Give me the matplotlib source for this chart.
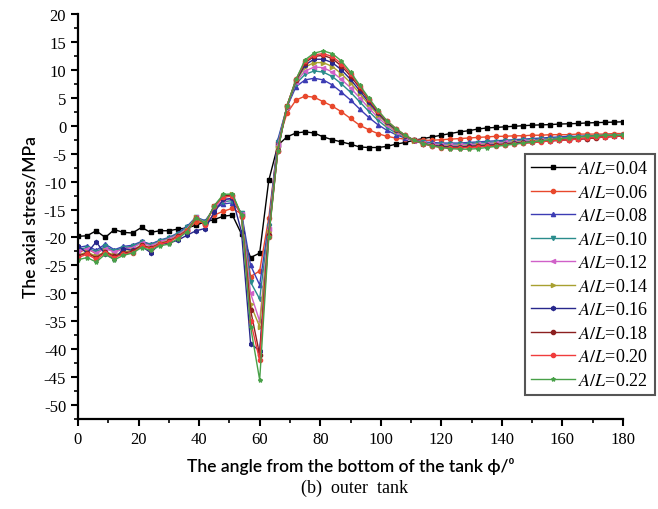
import matplotlib
matplotlib.use("Agg")
import matplotlib.pyplot as plt
from matplotlib.ticker import MultipleLocator

plt.rcParams['mathtext.fontset'] = 'stix'
plt.rcParams['axes.unicode_minus'] = False

angles = list(range(0, 181, 3))

labels = ["0.04", "0.06", "0.08", "0.10", "0.12", "0.14", "0.16", "0.18", "0.20", "0.22"]

s004 = [-19.8, -19.7, -18.8, -20.0, -18.6, -19.1, -19.2, -18.2, -19.1, -18.8,
        -18.8, -18.5, -18.3, -17.8, -17.2, -16.8, -16.2, -16.0, -19.4, -23.6,
        -22.8, -9.8, -3.5, -2.0, -1.3, -1.1, -1.3, -2.0, -2.5, -2.9,
        -3.3, -3.8, -3.9, -3.9, -3.7, -3.3, -3.0, -2.6, -2.3, -2.0,
        -1.7, -1.4, -1.1, -0.9, -0.6, -0.4, -0.3, -0.2, -0.1, 0.0,
        0.1, 0.15, 0.2, 0.3, 0.35, 0.4, 0.5, 0.55, 0.6, 0.65,
        0.7]
s006 = [-22.8, -22.0, -22.9, -21.8, -22.6, -22.0, -21.8, -20.8, -21.3, -20.6,
        -20.2, -19.4, -18.6, -17.2, -17.4, -16.0, -15.3, -14.8, -15.8, -27.0,
        -26.0, -16.5, -3.0, 2.2, 4.6, 5.3, 5.1, 4.3, 3.5, 2.5,
        1.3, 0.1, -0.7, -1.4, -1.9, -2.2, -2.4, -2.5, -2.6, -2.6,
        -2.5, -2.4, -2.3, -2.2, -2.1, -2.0, -1.9, -1.9, -1.8, -1.8,
        -1.7, -1.7, -1.6, -1.6, -1.6, -1.5, -1.5, -1.5, -1.5, -1.4,
        -1.4]
s008 = [-21.8, -21.5, -22.3, -21.2, -22.2, -21.6, -21.4, -20.7, -21.2, -20.5,
        -20.0, -19.2, -18.0, -16.4, -17.0, -14.8, -14.0, -13.8, -15.6, -25.0,
        -28.5, -17.5, -2.5, 3.3, 7.0, 8.2, 8.5, 8.2, 7.3, 6.0,
        4.6, 3.0, 1.5, 0.2, -0.8, -1.6, -2.2, -2.6, -2.9, -3.0,
        -3.1, -3.1, -3.1, -3.0, -2.9, -2.8, -2.7, -2.6, -2.5, -2.4,
        -2.3, -2.2, -2.1, -2.0, -1.9, -1.9, -1.8, -1.8, -1.7, -1.7,
        -1.7]
s010 = [-22.2, -21.8, -22.6, -21.6, -22.4, -21.8, -21.6, -20.8, -21.3, -20.6,
        -20.1, -19.3, -18.2, -16.3, -17.2, -14.7, -13.6, -13.4, -15.6, -28.0,
        -31.0, -18.0, -3.0, 3.4, 7.5, 9.2, 9.8, 9.6, 8.8, 7.5,
        6.0, 4.3, 2.6, 1.0, -0.3, -1.3, -2.1, -2.7, -3.0, -3.2,
        -3.3, -3.3, -3.3, -3.2, -3.1, -3.0, -2.9, -2.8, -2.7, -2.6,
        -2.5, -2.4, -2.3, -2.2, -2.1, -2.0, -1.9, -1.9, -1.8, -1.8,
        -1.7]
s012 = [-22.5, -22.0, -22.8, -22.0, -22.6, -22.1, -21.8, -21.0, -21.5, -20.8,
        -20.3, -19.5, -18.5, -16.4, -17.4, -14.6, -13.3, -13.1, -15.8, -30.0,
        -35.0, -18.5, -3.5, 3.4, 7.8, 9.8, 10.5, 10.4, 9.6, 8.3,
        6.8, 5.0, 3.2, 1.5, 0.1, -1.1, -2.0, -2.7, -3.1, -3.3,
        -3.4, -3.5, -3.5, -3.4, -3.3, -3.2, -3.1, -3.0, -2.9, -2.8,
        -2.7, -2.6, -2.5, -2.4, -2.3, -2.2, -2.1, -2.0, -1.9, -1.8,
        -1.8]
s014 = [-23.2, -22.6, -23.4, -22.5, -23.2, -22.6, -22.3, -21.3, -21.8, -21.0,
        -20.6, -19.7, -18.7, -16.4, -17.5, -14.4, -12.5, -12.3, -16.0, -32.0,
        -36.0, -19.0, -4.0, 3.5, 8.0, 10.5, 11.3, 11.3, 10.6, 9.3,
        7.7, 5.8, 3.8, 2.0, 0.4, -0.9, -1.9, -2.7, -3.2, -3.5,
        -3.6, -3.7, -3.7, -3.6, -3.5, -3.4, -3.3, -3.2, -3.0, -2.9,
        -2.8, -2.7, -2.6, -2.5, -2.4, -2.3, -2.2, -2.1, -2.0, -1.9,
        -1.8]
s016 = [-21.5, -22.8, -20.8, -23.0, -23.9, -22.0, -22.3, -21.6, -22.7, -21.2,
        -21.0, -20.5, -19.6, -18.8, -18.4, -15.5, -13.2, -13.0, -19.0, -39.0,
        -40.3, -19.5, -4.3, 3.5, 8.1, 10.9, 11.9, 11.9, 11.3, 10.0,
        8.3, 6.3, 4.2, 2.3, 0.6, -0.7, -1.8, -2.6, -3.2, -3.5,
        -3.7, -3.8, -3.8, -3.7, -3.6, -3.5, -3.4, -3.3, -3.1, -3.0,
        -2.9, -2.8, -2.7, -2.6, -2.5, -2.4, -2.3, -2.1, -2.0, -1.9,
        -1.8]
s018 = [-23.3, -22.8, -23.6, -22.6, -23.4, -22.8, -22.5, -21.4, -21.9, -21.1,
        -20.7, -19.8, -18.8, -16.5, -17.6, -14.3, -12.6, -12.4, -16.2, -33.0,
        -41.0, -19.5, -4.5, 3.5, 8.2, 11.3, 12.4, 12.6, 12.0, 10.7,
        8.9, 6.8, 4.6, 2.5, 0.8, -0.6, -1.7, -2.6, -3.2, -3.6,
        -3.8, -3.9, -3.9, -3.8, -3.7, -3.6, -3.5, -3.4, -3.2, -3.1,
        -3.0, -2.8, -2.7, -2.6, -2.5, -2.4, -2.3, -2.2, -2.0, -1.9,
        -1.8]
s020 = [-23.6, -23.0, -23.9, -22.8, -23.6, -23.0, -22.7, -21.6, -22.0, -21.2,
        -20.8, -19.9, -18.9, -16.6, -17.7, -14.4, -12.8, -12.6, -16.3, -35.0,
        -42.0, -20.0, -4.5, 3.6, 8.3, 11.5, 12.7, 12.9, 12.4, 11.1,
        9.3, 7.1, 4.8, 2.7, 0.9, -0.5, -1.7, -2.6, -3.2, -3.6,
        -3.9, -4.0, -4.0, -3.9, -3.8, -3.7, -3.6, -3.4, -3.3, -3.1,
        -3.0, -2.9, -2.7, -2.6, -2.5, -2.4, -2.2, -2.1, -2.0, -1.9,
        -1.8]
s022 = [-24.0, -23.6, -24.4, -23.0, -24.0, -23.2, -22.8, -21.8, -22.3, -21.5,
        -21.2, -20.2, -19.0, -16.5, -17.5, -14.3, -12.3, -12.2, -16.0, -36.0,
        -45.5, -20.0, -4.5, 3.5, 8.3, 11.8, 13.0, 13.4, 12.9, 11.6,
        9.6, 7.3, 5.0, 2.8, 0.9, -0.5, -1.7, -2.6, -3.2, -3.6,
        -3.9, -4.1, -4.2, -4.2, -4.1, -3.9, -3.7, -3.5, -3.3, -3.1,
        -2.9, -2.7, -2.5, -2.3, -2.2, -2.0, -1.9, -1.8, -1.7, -1.7,
        -1.7]

series = [s004, s006, s008, s010, s012, s014, s016, s018, s020, s022]
colors = ["#000000", "#e8482c", "#3c3cb4", "#2a8c8c", "#d060c8", "#a8a030",
          "#28288c", "#8c2020", "#f03c3c", "#48a048"]
markers = ["s", "o", "^", "v", "<", ">", "h", "o", "o", "*"]

fig = plt.figure(figsize=(6.58, 5.10), dpi=100)
ax = fig.add_axes([78/658, 1-420/510, (623-78)/658, (420-15)/510])

for vals, lab, c, m in zip(series, labels, colors, markers):
    ax.plot(angles, vals, color=c, marker=m, markersize=3.0, linewidth=1.0,
            label="$A/L$=" + lab)

ax.set_xlim(0, 180)
ax.set_ylim(-52.5, 20)
ax.xaxis.set_major_locator(MultipleLocator(20))
ax.xaxis.set_minor_locator(MultipleLocator(10))
ax.yaxis.set_major_locator(MultipleLocator(5))
ax.yaxis.set_minor_locator(MultipleLocator(2.5))
for s in ["top", "right"]:
    ax.spines[s].set_visible(False)
for s in ["left", "bottom"]:
    ax.spines[s].set_linewidth(1.6)
ax.tick_params(which="major", direction="out", length=5, width=1.5)
ax.tick_params(which="minor", direction="out", length=3, width=1.2)
for t in ax.get_xticklabels() + ax.get_yticklabels():
    t.set_fontfamily("Liberation Serif")
    t.set_fontsize(12)

ax.set_ylabel("The axial stress/MPa", fontsize=12.5, family=["Lato", "DejaVu Sans"],
              weight="semibold", labelpad=4)
ax.set_xlabel("The angle from the bottom of the tank ϕ/⁰", fontsize=12.5,
              family=["Lato", "DejaVu Sans"], weight="semibold", labelpad=7)
fig.text(355/658, 1-488/510, "(b)  outer  tank", fontsize=13, family="Liberation Serif",
         ha="center", va="center")

leg = ax.legend(loc="upper left", bbox_to_anchor=(525/658, 1-155/510),
                bbox_transform=fig.transFigure, prop={"family": "Liberation Serif", "size": 13},
                fancybox=False, framealpha=1, edgecolor="#555555", borderpad=0.35,
                labelspacing=0.36, handlelength=2.4, handletextpad=0.2, borderaxespad=0)
leg.get_frame().set_linewidth(1.5)

fig.savefig("out.png", dpi=100)
